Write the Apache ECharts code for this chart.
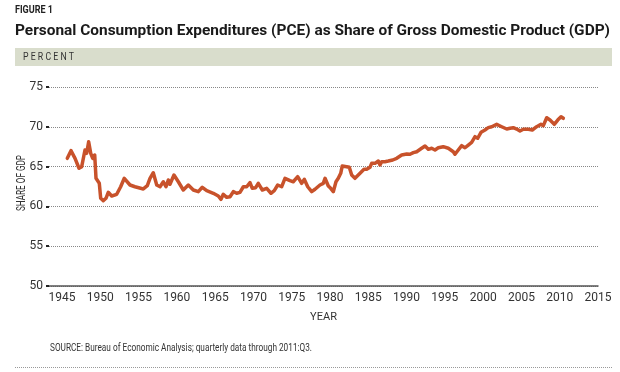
<!DOCTYPE html>
<html>
<head>
<meta charset="utf-8">
<script src="https://cdn.jsdelivr.net/npm/echarts@6/dist/echarts.min.js"></script>
<style>
  html, body { margin: 0; padding: 0; background: #fff; }
  #chart { width: 620px; height: 372px; }
</style>
</head>
<body>
<div id="chart"></div>
<script>
// Decimal year positions (as read against the chart's year axis) and PCE share of GDP (%)
const years = [
  1945.69, 1946.17, 1946.70, 1947.22, 1947.57, 1948.00, 1948.22, 1948.48, 1948.75, 1949.01,
  1949.27, 1949.44, 1949.61, 1949.87, 1950.05, 1950.39, 1950.74, 1951.04, 1951.49, 1952.14,
  1952.66, 1953.13, 1953.88, 1954.53, 1955.62, 1956.14, 1956.49, 1956.92, 1957.37, 1957.80,
  1958.23, 1958.58, 1958.88, 1959.10, 1959.62, 1960.19, 1960.84, 1961.49, 1962.15, 1962.80,
  1963.32, 1963.90, 1964.76, 1965.41, 1965.76, 1966.06, 1966.51, 1966.94, 1967.37, 1967.81,
  1968.24, 1968.68, 1969.12, 1969.55, 1969.85, 1970.29, 1970.63, 1971.16, 1971.73, 1972.29,
  1972.72, 1973.17, 1973.69, 1974.12, 1974.77, 1975.20, 1975.78, 1976.30, 1976.64, 1977.09,
  1977.61, 1978.04, 1978.69, 1979.12, 1979.35, 1979.78, 1980.09, 1980.43, 1980.78, 1981.08,
  1981.40, 1981.60, 1982.18, 1982.52, 1982.83, 1983.26, 1983.92, 1984.44, 1984.79, 1985.22,
  1985.44, 1985.88, 1986.31, 1986.53, 1986.75, 1987.18, 1987.61, 1988.19, 1988.71, 1989.36,
  1990.02, 1990.45, 1990.88, 1991.32, 1991.97, 1992.41, 1992.84, 1993.28, 1993.71, 1994.14,
  1994.79, 1995.45, 1996.10, 1996.32, 1996.75, 1997.20, 1997.63, 1998.06, 1998.50, 1998.94,
  1999.29, 1999.72, 2000.24, 2000.67, 2001.12, 2001.77, 2002.42, 2003.08, 2003.51, 2003.94,
  2004.38, 2004.81, 2005.24, 2005.90, 2006.42, 2006.99, 2007.55, 2007.86, 2008.30, 2008.73,
  2009.29, 2009.74, 2010.17, 2010.47
];
const pceShare = [
  66.04, 67.00, 66.04, 64.79, 64.99, 67.09, 66.67, 68.13, 66.67, 66.04,
  66.46, 63.53, 63.73, 62.90, 61.02, 60.72, 61.02, 61.77, 61.31, 61.52,
  62.47, 63.53, 62.69, 62.47, 62.19, 62.60, 63.53, 64.23, 62.69, 62.47,
  63.10, 62.47, 63.32, 62.78, 63.94, 63.10, 62.06, 62.69, 62.06, 61.85,
  62.40, 61.97, 61.65, 61.31, 60.89, 61.52, 61.14, 61.22, 61.85, 61.65,
  61.77, 62.47, 62.47, 62.98, 62.27, 62.35, 62.90, 62.06, 62.27, 61.65,
  61.97, 62.69, 62.47, 63.53, 63.23, 63.10, 63.73, 62.90, 63.40, 62.47,
  61.85, 62.15, 62.69, 62.90, 63.53, 62.56, 62.27, 61.85, 63.10, 63.53,
  64.16, 65.08, 64.99, 64.91, 63.94, 63.53, 64.16, 64.66, 64.66, 64.91,
  65.41, 65.41, 65.70, 65.20, 65.62, 65.62, 65.70, 65.83, 66.04, 66.46,
  66.58, 66.55, 66.75, 66.87, 67.30, 67.59, 67.17, 67.30, 67.09, 67.37,
  67.50, 67.30, 66.87, 66.55, 67.09, 67.63, 67.37, 67.71, 68.05, 68.76,
  68.56, 69.31, 69.60, 69.89, 70.01, 70.31, 70.01, 69.72, 69.81, 69.89,
  69.72, 69.47, 69.69, 69.69, 69.60, 70.01, 70.31, 70.14, 71.14, 70.85,
  70.31, 70.85, 71.27, 71.07
];
const xTickYears = [1945, 1950, 1955, 1960, 1965, 1970, 1975, 1980, 1985, 1990, 1995, 2000, 2005, 2010, 2015];
const yTickValues = [50, 55, 60, 65, 70, 75];

const FONT = 'Roboto, "DejaVu Sans", sans-serif';

// horizontal squeeze so a text run spans a target width (mimics the condensed typeface)
const measureCtx = document.createElement('canvas').getContext('2d');
function squeeze(text, font, targetWidth) {
  measureCtx.font = font;
  return targetWidth / measureCtx.measureText(text).width;
}

const figFont = 'bold 10px ' + FONT;
const titleText = 'Personal Consumption Expenditures (PCE) as Share of Gross Domestic Product (GDP)';
const titleFont = 'bold 15.5px ' + FONT;
const unitText = 'P E R C E N T';
const unitFont = '11.5px ' + FONT;
const sourceText = 'SOURCE: Bureau of Economic Analysis; quarterly data through 2011:Q3.';
const sourceFont = '11px ' + FONT;
const yNameText = 'SHARE OF GDP';
const yNameFont = '12.5px ' + FONT;

const chart = echarts.init(document.getElementById('chart'), null, { renderer: 'canvas' });

chart.setOption({
  animation: false,
  backgroundColor: '#ffffff',
  textStyle: { fontFamily: FONT },
  grid: { left: 49, right: 22, top: 87, bottom: 86, containLabel: false },
  graphic: [
    { type: 'text', x: 15, y: 10.5, scaleX: squeeze('FIGURE 1', figFont, 38),
      style: { text: 'FIGURE 1', font: figFont, fill: '#222', verticalAlign: 'middle' } },
    { type: 'text', x: 15, y: 31.5, scaleX: squeeze(titleText, titleFont, 595),
      style: { text: titleText, font: titleFont, fill: '#1a1a1a', verticalAlign: 'middle' } },
    { type: 'rect', shape: { x: 15, y: 48, width: 597, height: 18 },
      style: { fill: '#d9ddcc' } },
    { type: 'text', x: 23, y: 57, scaleX: squeeze(unitText, unitFont, 51),
      style: { text: unitText, font: unitFont, fill: '#333', verticalAlign: 'middle' } },
    { type: 'text', x: 22, y: 183, rotation: Math.PI / 2, scaleX: squeeze(yNameText, yNameFont, 56),
      style: { text: yNameText, font: yNameFont, fill: '#333', align: 'center', verticalAlign: 'middle' } },
    { type: 'text', x: 50, y: 348, scaleX: squeeze(sourceText, sourceFont, 262),
      style: { text: sourceText, font: sourceFont, fill: '#333', verticalAlign: 'middle' } },
    { type: 'line', shape: { x1: 15, y1: 367.5, x2: 612, y2: 367.5 },
      style: { stroke: '#999', lineWidth: 1, lineDash: [1, 1] } }
  ],
  xAxis: {
    type: 'value',
    min: 1943.3,
    max: 2015,
    name: 'YEAR',
    nameLocation: 'middle',
    nameGap: 26,
    nameTextStyle: { fontSize: 11, color: '#333', fontFamily: FONT },
    axisLine: { show: true, lineStyle: { color: '#555', width: 1.5 } },
    axisTick: { show: false },
    splitLine: { show: false },
    axisLabel: {
      customValues: xTickYears,
      formatter: (v) => String(v),
      margin: 6,
      fontSize: 12,
      color: '#333',
      fontFamily: FONT
    }
  },
  yAxis: {
    type: 'value',
    min: yTickValues[0],
    max: yTickValues[yTickValues.length - 1],
    interval: 5,
    axisLine: { show: false },
    axisTick: { show: true, length: 3, lineStyle: { color: '#222', width: 2 } },
    axisLabel: { margin: 6, fontSize: 12, color: '#333', fontFamily: FONT },
    splitLine: { show: true, lineStyle: { color: '#888', width: 1, type: [1, 1] } }
  },
  series: [{
    type: 'line',
    data: years.map((y, i) => [y, pceShare[i]]),
    showSymbol: false,
    symbol: 'none',
    smooth: false,
    lineStyle: { color: '#c8522b', width: 3.5, join: 'round', cap: 'round' }
  }]
});
</script>
</body>
</html>
